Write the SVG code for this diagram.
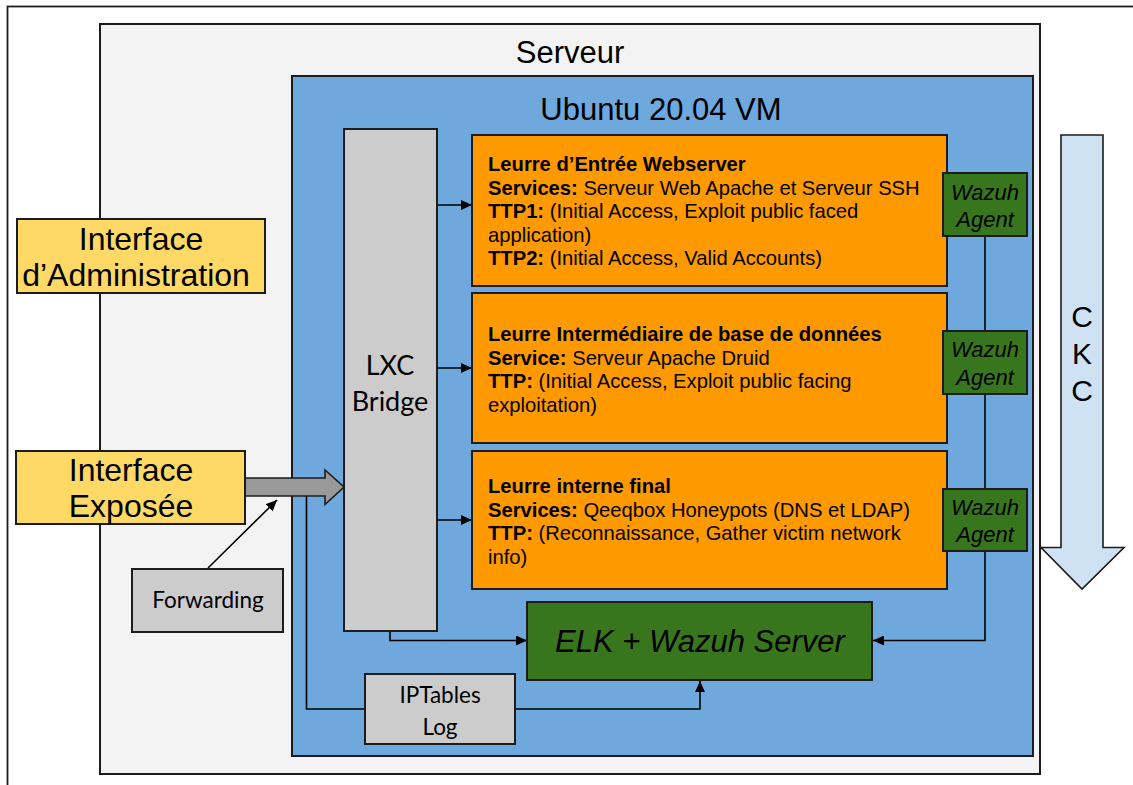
<svg xmlns="http://www.w3.org/2000/svg" width="1133" height="785" viewBox="0 0 1133 785">
<defs>
<style>
.box{stroke:#1c1c1c;stroke-width:2}
.t{font-family:"Liberation Sans",Arial,sans-serif;fill:#000}
.c{font-family:Lato,"Open Sans",sans-serif;fill:#000}
.b{font-weight:bold}
.i{font-style:italic}
.ln{fill:none;stroke:#000;stroke-width:1.6}
</style>
<marker id="ah" markerUnits="userSpaceOnUse" markerWidth="12" markerHeight="10" refX="11" refY="5" orient="auto">
<path d="M0,0 L11,5 L0,10 Z" fill="#000"/>
</marker>
</defs>
<rect width="1133" height="785" fill="#fff"/>
<rect x="7.5" y="6.5" width="1140" height="800" fill="#fff" stroke="#1c1c1c" stroke-width="1.8"/>
<g id="serveur">
<rect class="box" x="100" y="24" width="940" height="750" fill="#f3f3f3"/>
<text class="t" x="570" y="63" font-size="31" text-anchor="middle">Serveur</text>
</g>
<g id="ubuntu-vm">
<rect class="box" x="292" y="76" width="741" height="680" fill="#6fa8dc"/>
<text class="t" x="661" y="120" font-size="31" text-anchor="middle">Ubuntu 20.04 VM</text>
</g>
<g id="connectors">
<polygon points="245,478 325,478 325,470 344,487 325,504.5 325,496 245,496" fill="#999" stroke="#1c1c1c" stroke-width="1.6"/>
<line class="ln" x1="208" y1="568" x2="277" y2="500" marker-end="url(#ah)"/>
<polyline class="ln" points="306.5,496 306.5,709 365,709"/>
<polyline class="ln" points="515,709 700,709 700,681" marker-end="url(#ah)"/>
<line class="ln" x1="437" y1="205" x2="472" y2="205" marker-end="url(#ah)"/>
<line class="ln" x1="437" y1="368" x2="472" y2="368" marker-end="url(#ah)"/>
<line class="ln" x1="437" y1="520" x2="472" y2="520" marker-end="url(#ah)"/>
<polyline class="ln" points="390,631 390,640.5 527,640.5" marker-end="url(#ah)"/>
<polyline class="ln" points="985,236 985,640.5 873,640.5" marker-end="url(#ah)"/>
</g>
<g id="interface-admin">
<rect class="box" x="17" y="219" width="248" height="74" fill="#ffd966"/>
<text class="t" x="141" y="250" font-size="32" text-anchor="middle">Interface</text>
<text class="t" x="136" y="286" font-size="32" text-anchor="middle">d’Administration</text>
</g>
<g id="interface-exposee">
<rect class="box" x="16" y="451" width="229" height="73" fill="#ffd966"/>
<text class="t" x="131" y="481" font-size="32" text-anchor="middle">Interface</text>
<text class="t" x="131" y="517" font-size="32" text-anchor="middle">Exposée</text>
</g>
<g id="forwarding">
<rect class="box" x="132" y="569" width="151" height="63" fill="#cccccc"/>
<text class="c" x="208" y="608" font-size="22.5" text-anchor="middle">Forwarding</text>
</g>
<g id="lxc-bridge">
<rect class="box" x="344" y="129" width="93" height="502" fill="#cccccc"/>
<text class="c" x="390" y="375" font-size="27" text-anchor="middle">LXC</text>
<text class="c" x="390" y="411" font-size="27" text-anchor="middle">Bridge</text>
</g>
<g id="iptables-log">
<rect class="box" x="365" y="674" width="150" height="70" fill="#cccccc"/>
<text class="c" x="440" y="703" font-size="22.5" text-anchor="middle">IPTables</text>
<text class="c" x="440" y="735" font-size="22.5" text-anchor="middle">Log</text>
</g>
<g id="leurre-entree">
<rect class="box" x="472" y="135" width="475" height="151" fill="#ff9900"/>
<text class="t" font-size="20.2" x="488" y="171"><tspan class="b">Leurre d’Entrée Webserver</tspan></text>
<text class="t" font-size="20.2" x="488" y="194.5"><tspan class="b">Services:</tspan> Serveur Web Apache et Serveur SSH</text>
<text class="t" font-size="20.2" x="488" y="218"><tspan class="b">TTP1:</tspan> (Initial Access, Exploit public faced</text>
<text class="t" font-size="20.2" x="488" y="241.5">application)</text>
<text class="t" font-size="20.2" x="488" y="265"><tspan class="b">TTP2:</tspan> (Initial Access, Valid Accounts)</text>
</g>
<g id="leurre-intermediaire">
<rect class="box" x="472" y="293" width="475" height="150" fill="#ff9900"/>
<text class="t" font-size="20.2" x="488" y="341"><tspan class="b">Leurre Intermédiaire de base de données</tspan></text>
<text class="t" font-size="20.2" x="488" y="364.5"><tspan class="b">Service:</tspan> Serveur Apache Druid</text>
<text class="t" font-size="20.2" x="488" y="388"><tspan class="b">TTP:</tspan> (Initial Access, Exploit public facing</text>
<text class="t" font-size="20.2" x="488" y="411.5">exploitation)</text>
</g>
<g id="leurre-interne">
<rect class="box" x="472" y="451" width="475" height="138" fill="#ff9900"/>
<text class="t" font-size="20.2" x="488" y="493"><tspan class="b">Leurre interne final</tspan></text>
<text class="t" font-size="20.2" x="488" y="516.5"><tspan class="b">Services:</tspan> Qeeqbox Honeypots (DNS et LDAP)</text>
<text class="t" font-size="20.2" x="488" y="540"><tspan class="b">TTP:</tspan> (Reconnaissance, Gather victim network</text>
<text class="t" font-size="20.2" x="488" y="563.5">info)</text>
</g>
<g id="wazuh-agent-1">
<rect class="box" x="943" y="173" width="84" height="63" fill="#38761d"/>
<text class="t i" x="985" y="200" font-size="22" text-anchor="middle">Wazuh</text>
<text class="t i" x="985" y="227" font-size="22" text-anchor="middle">Agent</text>
</g>
<g id="wazuh-agent-2">
<rect class="box" x="943" y="331" width="84" height="63" fill="#38761d"/>
<text class="t i" x="985" y="357" font-size="22" text-anchor="middle">Wazuh</text>
<text class="t i" x="985" y="384.5" font-size="22" text-anchor="middle">Agent</text>
</g>
<g id="wazuh-agent-3">
<rect class="box" x="943" y="489" width="84" height="62" fill="#38761d"/>
<text class="t i" x="985" y="514.5" font-size="22" text-anchor="middle">Wazuh</text>
<text class="t i" x="985" y="542" font-size="22" text-anchor="middle">Agent</text>
</g>
<g id="elk-wazuh-server">
<rect class="box" x="527" y="602" width="345" height="78" fill="#38761d"/>
<text class="t i" x="700" y="652" font-size="31" text-anchor="middle">ELK + Wazuh Server</text>
</g>
<g id="ckc">
<polygon points="1061,135 1103,135 1103,547.5 1124,547.5 1082,589 1041,547.5 1061,547.5" fill="#cfe2f3" stroke="#1c1c1c" stroke-width="1.6"/>
<text class="t" x="1082" y="327" font-size="30" text-anchor="middle">C</text>
<text class="t" x="1082" y="364" font-size="30" text-anchor="middle">K</text>
<text class="t" x="1082" y="401" font-size="30" text-anchor="middle">C</text>
</g>
</svg>
